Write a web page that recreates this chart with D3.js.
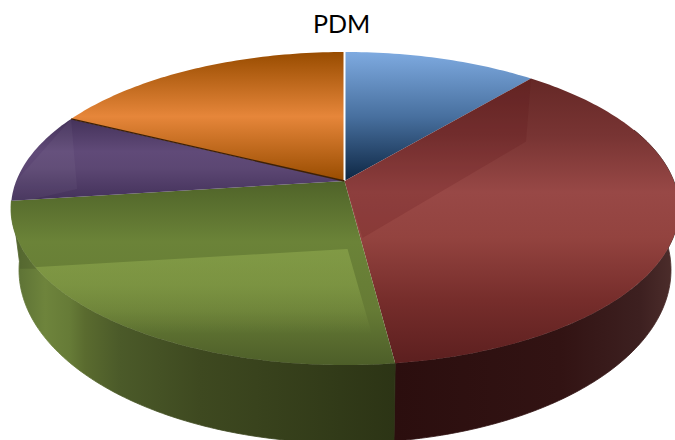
<!DOCTYPE html>
<html>
<head>
<meta charset="utf-8">
<title>PDM</title>
<script src="https://cdn.jsdelivr.net/npm/d3@7"></script>
<style>
    html, body { margin: 0; padding: 0; background: #fff; overflow: hidden; }
    .chart-title { font-family: Lato, sans-serif; font-size: 25px; fill: #000; text-anchor: middle; }
</style>
</head>
<body>
<div id="chart"></div>
<script>
// Data (share of the pie, clockwise from 12 o'clock)
var categories = ["A", "B", "C", "D", "E"];
var shares = [9.4, 38.2, 28.2, 8.9, 15.3];
var chartTitle = "PDM";

var width = 675, height = 440;

// The tilted pie: top rim, bottom rim and the apex where the slices meet
var topRim = { cx: 345, cy: 208.5, rx: 334, ry: 156.5 };
var bottomRim = { cx: 345, cy: 270, rx: 326, ry: 173 };
var apex = [344.5, 181];
var sideFrom = 60 * Math.PI / 180, sideTo = 273 * Math.PI / 180;

// Vertical gradients of the top faces, one per slice
var faceStops = [
    [[0, "#7eaae0"], [0.5, "#48709f"], [1, "#0d2643"]],
    [[0, "#652826"], [0.2, "#783433"], [0.4, "#984846"], [0.56, "#93433f"], [0.78, "#762d2b"], [1, "#5c1f1f"]],
    [[0, "#4f6329"], [0.33, "#6b8338"], [0.7, "#667b35"], [1, "#4d5e29"]],
    [[0, "#44325a"], [0.4, "#604a78"], [0.6, "#5c4773"], [1, "#43315a"]],
    [[0, "#984c00"], [0.5, "#e6863a"], [1, "#984c00"]]
];

// Horizontal gradients of the visible side wall
var sideStops = {
    1: [[396, "#2b0e0e"], [560, "#321313"], [640, "#3d2020"], [675, "#4d2e2c"]],
    2: [[20, "#5f7436"], [45, "#6e843c"], [70, "#667b37"], [85, "#5a6b2f"], [120, "#4b5a29"], [200, "#3e4920"], [396, "#2c3415"]]
};

var svg = d3.select("#chart").append("svg")
    .attr("width", width)
    .attr("height", height);
var defs = svg.append("defs");

var pie = d3.pie().sort(null).value(function(d) { return d; });
var slices = pie(shares);

function rimPoint(rim, t) {
    return [rim.cx + rim.rx * Math.sin(t), rim.cy - rim.ry * Math.cos(t)];
}

function rimSamples(rim, t0, t1) {
    var n = Math.max(2, Math.ceil(Math.abs(t1 - t0) * 60));
    return d3.range(n + 1).map(function(i) {
        return rimPoint(rim, t0 + (t1 - t0) * i / n);
    });
}

function shift(p, dx, dy) {
    return [p[0] + dx, p[1] + dy];
}

var line = d3.line();

function slicePath(d) {
    return line([apex].concat(rimSamples(topRim, d.startAngle, d.endAngle))) + "Z";
}

function addStops(grad, stops) {
    stops.forEach(function(s) {
        grad.append("stop").attr("offset", s[0]).attr("stop-color", s[1]);
    });
}

// Side wall first, the top faces cover whatever sticks out behind them
slices.forEach(function(d, i) {
    var t0 = Math.max(d.startAngle, sideFrom), t1 = Math.min(d.endAngle, sideTo);
    if (t1 <= t0 || !sideStops[i]) return;

    var xs = sideStops[i].map(function(s) { return s[0]; });
    var x0 = d3.min(xs), x1 = d3.max(xs);
    var grad = defs.append("linearGradient")
        .attr("id", "side-" + i)
        .attr("gradientUnits", "userSpaceOnUse")
        .attr("x1", x0).attr("x2", x1).attr("y1", 0).attr("y2", 0);
    addStops(grad, sideStops[i].map(function(s) { return [(s[0] - x0) / (x1 - x0), s[1]]; }));

    // the thin stroke hides the seam between the two walls
    svg.append("path")
        .attr("class", "side")
        .attr("d", line(rimSamples(topRim, t0, t1).concat(rimSamples(bottomRim, t1, t0))) + "Z")
        .attr("fill", "url(#side-" + i + ")")
        .attr("stroke", "url(#side-" + i + ")")
        .attr("stroke-width", 0.8);
});

// Darker strip on the left wall, above where the bevel line meets the rim
var greenEdge = rimPoint(topRim, slices[2].endAngle);
svg.append("path")
    .attr("class", "side-shade")
    .attr("d", line([shift(greenEdge, 1, 10), shift(greenEdge, 40, 10), shift(greenEdge, 40, 68), shift(greenEdge, 8.5, 68)]) + "Z")
    .attr("fill", "#000")
    .attr("fill-opacity", 0.1);

// Top faces
slices.forEach(function(d, i) {
    var grad = defs.append("linearGradient")
        .attr("id", "face-" + i)
        .attr("x1", 0).attr("x2", 0).attr("y1", 0).attr("y2", 1);
    addStops(grad, faceStops[i]);

    defs.append("clipPath").attr("id", "clip-" + i)
        .append("path").attr("d", slicePath(d));

    svg.append("path")
        .attr("class", "slice")
        .attr("data-category", categories[i])
        .attr("d", slicePath(d))
        .attr("fill", "url(#face-" + i + ")");
});

function sheen(i, points, fill, opacity) {
    svg.append("path")
        .attr("class", "sheen")
        .attr("clip-path", "url(#clip-" + i + ")")
        .attr("d", line(points) + "Z")
        .attr("fill", fill)
        .attr("fill-opacity", opacity);
}

// Bevel patches, built from each slice's own edges
var redStart = rimPoint(topRim, slices[1].startAngle);
sheen(1, [apex, redStart, shift(redStart, -5, 63), shift(apex, 18, 57)], "#5a0a10", 0.16);

var greenStart = rimPoint(topRim, slices[2].startAngle);
var greenLight = defs.append("linearGradient")
    .attr("id", "green-light")
    .attr("x1", 0).attr("x2", 0).attr("y1", 0).attr("y2", 1);
[[0, 0.55], [0.3, 0.45], [0.7, 0]].forEach(function(s) {
    greenLight.append("stop").attr("offset", s[0]).attr("stop-color", "#93ad50").attr("stop-opacity", s[1]);
});
sheen(2, [shift(greenEdge, 0, 68), shift(apex, 3, 68), shift(greenStart, -19, -14), shift(greenEdge, 0, 170)],
    "url(#green-light)", 1);

var purpleEnd = rimPoint(topRim, slices[3].endAngle);
sheen(3, [purpleEnd, shift(purpleEnd, 6, 70), shift(purpleEnd, -80, 90)], "#fff", 0.04);

// Hairlines between the slices at the back
svg.append("path")
    .attr("d", line([apex, [apex[0], rimPoint(topRim, 0)[1]]]))
    .attr("stroke", "#fff").attr("stroke-width", 2).attr("fill", "none");

svg.append("path")
    .attr("d", line([apex, purpleEnd]))
    .attr("stroke", "#3d2006").attr("stroke-width", 1.4).attr("fill", "none");

svg.append("text")
    .attr("class", "chart-title")
    .attr("x", 341.5)
    .attr("y", 32.5)
    .text(chartTitle);
</script>
</body>
</html>
